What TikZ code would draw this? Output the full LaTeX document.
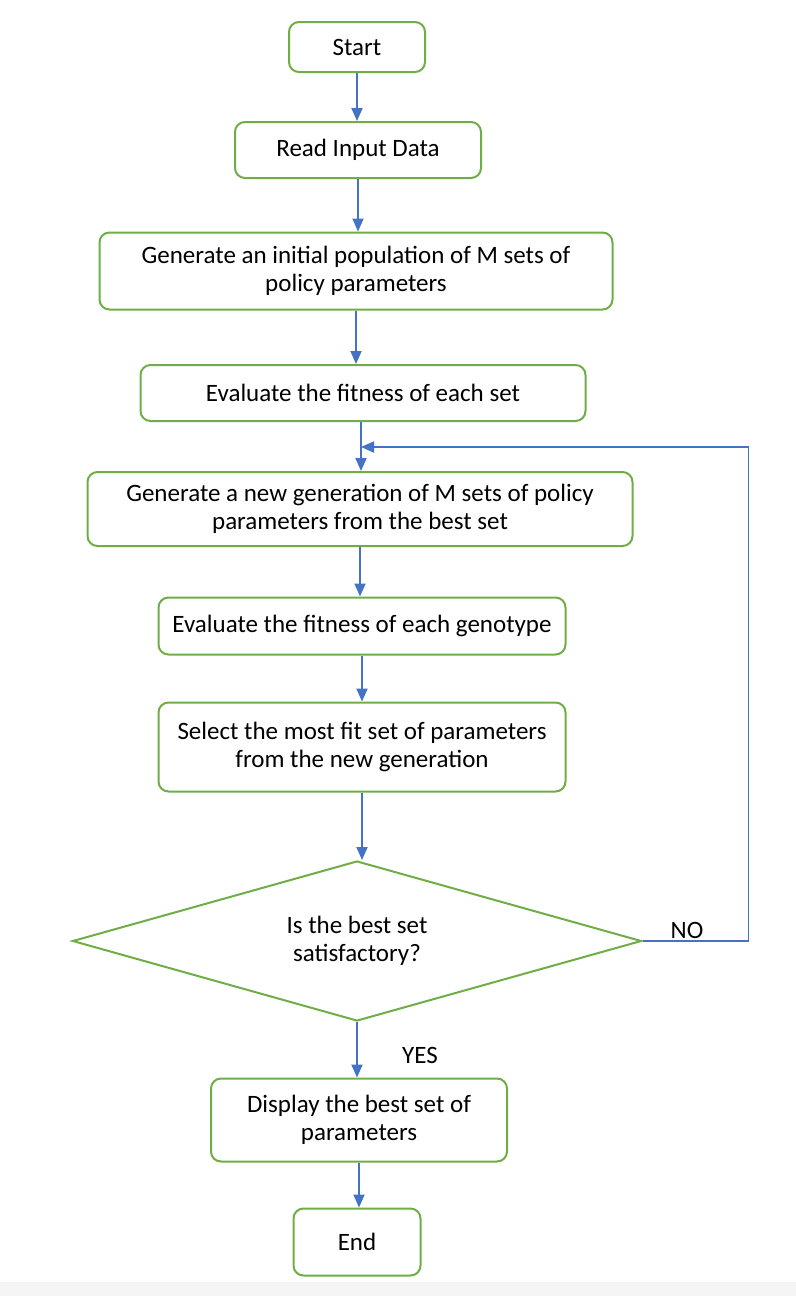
\documentclass[tikz,border=0pt]{standalone}
\usepackage{fontspec}
\setmainfont{Carlito}
\usetikzlibrary{arrows.meta,shapes}

\definecolor{boxgreen}{RGB}{112,173,71}
\definecolor{lineblue}{RGB}{68,114,196}

\begin{document}
\begin{tikzpicture}[font=\fontsize{25bp}{28bp}\selectfont,
  box/.style={draw=boxgreen,line width=2bp,rounded corners=10bp,fill=white,align=center,inner sep=0pt},
  flow/.style={-{Triangle[width=11bp,length=13bp]},draw=lineblue,line width=1.8bp}]

\useasboundingbox (0bp,0bp) rectangle (796bp,-1296bp);
\fill[white] (0bp,0bp) rectangle (796bp,-1282bp);
\fill[black!4] (0bp,-1282bp) rectangle (796bp,-1296bp);

\node (S) at (357bp,-47bp)[box,minimum width=136bp,minimum height=50bp] {Start};
\node (R) at (358bp,-150bp)[box,minimum width=246bp,minimum height=56bp] {Read Input Data};
\node (G1) at (356bp,-271bp)[box,minimum width=513bp,minimum height=77bp] {Generate an initial population of M sets of\\policy parameters};
\node (E1) at (363bp,-393bp)[box,minimum width=445bp,minimum height=56bp] {Evaluate the fitness of each set};
\node (G2) at (360bp,-509bp)[box,minimum width=545bp,minimum height=74bp] {Generate a new generation of M sets of policy\\parameters from the best set};
\node (E2) at (362bp,-626bp)[box,minimum width=407bp,minimum height=57bp] {Evaluate the fitness of each genotype};
\node (Sel) at (362bp,-747bp)[box,minimum width=407bp,minimum height=89bp] {Select the most fit set of parameters\\from the new generation};
\node (D) at (357bp,-941bp)[draw=boxgreen,line width=2bp,diamond,aspect=3.5,inner sep=0pt,minimum width=569bp,minimum height=160bp,align=center] {Is the best set\\satisfactory?};
\node (Disp) at (359bp,-1120bp)[box,minimum width=296bp,minimum height=83bp] {Display the best set of\\parameters};
\node (End) at (357bp,-1242bp)[box,minimum width=127bp,minimum height=67bp] {End};

\coordinate (M) at (361bp,-447bp);
\node (NO) at (687bp,-930bp) {NO};
\node (YES) at (420bp,-1055bp) {YES};

\draw [flow] (S) -- (S |- R.north);
\draw [flow] (R) -- (R |- G1.north);
\draw [flow] (G1) -- (G1 |- E1.north);
\draw [flow] (E1.south -| M) -- (M |- G2.north);
\draw [flow] (G2) -- (G2 |- E2.north);
\draw [flow] (E2) -- (E2 |- Sel.north);
\draw [flow] (Sel) -- (Sel |- D.north);
\draw [flow] (D) -- (D |- Disp.north);
\draw [flow] (Disp) -- (Disp |- End.north);
\draw [flow] (D.east) -- ++(106bp,0) |- (M);
\end{tikzpicture}
\end{document}
